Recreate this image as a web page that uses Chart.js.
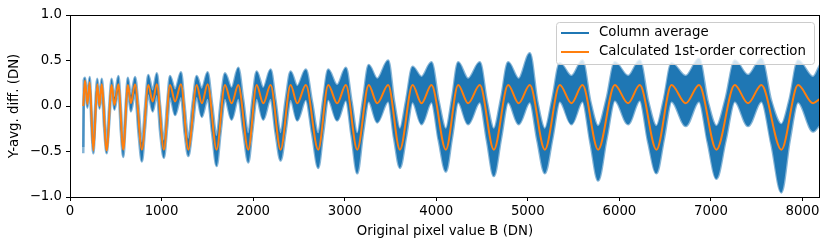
<!DOCTYPE html>
<html>
<head>
<meta charset="utf-8">
<script src="https://cdn.jsdelivr.net/npm/chart.js@4/dist/chart.umd.min.js"></script>
<style>
  html, body { margin: 0; padding: 0; background: #fff; }
  canvas { display: block; }
</style>
</head>
<body>
<canvas id="chart" width="831" height="248"></canvas>
<script>
// tick labels
const xTicks = [0, 1000, 2000, 3000, 4000, 5000, 6000, 7000, 8000];
const yTicks = [-1.0, -0.5, 0.0, 0.5, 1.0];

// Calculated 1st-order correction (orange), key points
const corrX = [145, 164, 190, 215, 255, 298, 322, 346, 400, 455, 485, 528, 582, 632, 665, 710,
  785, 855, 903, 948, 1025, 1092, 1148, 1212, 1292, 1383, 1440, 1503, 1601, 1692, 1765, 1838,
  1947, 2038, 2111, 2191, 2300, 2409, 2482, 2576, 2711, 2820, 2918, 3013, 3137, 3262, 3355, 3475,
  3603, 3741, 3839, 3948, 4105, 4239, 4348, 4476, 4629, 4785, 4900, 5022, 5186, 5349, 5477, 5597,
  5768, 5950, 6095, 6223, 6405, 6569, 6725, 6870, 7060, 7260, 7405, 7551, 7769, 7951, 8115, 8191];
const corrY = [0.0, 0.28, 0.02, 0.26, -0.49, 0.24, 0.0, 0.24, -0.49, 0.23, 0.01, 0.24, -0.48, 0.23, 0.03, 0.24,
  -0.48, 0.23, 0.05, 0.24, -0.48, 0.23, 0.05, 0.24, -0.48, 0.23, 0.03, 0.24, -0.48, 0.23, 0.03, 0.23,
  -0.48, 0.23, 0.03, 0.23, -0.48, 0.23, 0.03, 0.23, -0.48, 0.23, 0.03, 0.23, -0.48, 0.23, 0.03, 0.23,
  -0.48, 0.23, 0.03, 0.23, -0.48, 0.23, 0.03, 0.23, -0.48, 0.23, 0.03, 0.23, -0.48, 0.23, 0.03, 0.23,
  -0.48, 0.23, 0.03, 0.23, -0.48, 0.23, 0.03, 0.23, -0.48, 0.23, 0.03, 0.23, -0.48, 0.23, 0.03, 0.08];

// Column average (blue): upper and lower edge of the noisy trace
const avgX = [145, 150, 164, 190, 215, 235, 255, 275, 298, 322, 346, 373, 400, 428, 455, 485, 528, 555,
  582, 607, 632, 665, 710, 748, 785, 820, 855, 903, 948, 985, 1025, 1060, 1092, 1148, 1212, 1252,
  1292, 1338, 1383, 1440, 1503, 1552, 1601, 1646, 1692, 1765, 1838, 1892, 1947, 1992, 2038, 2111,
  2191, 2245, 2300, 2355, 2409, 2482, 2576, 2643, 2711, 2765, 2820, 2918, 3013, 3075, 3137, 3200,
  3262, 3355, 3475, 3540, 3603, 3672, 3741, 3839, 3948, 4027, 4105, 4172, 4239, 4348, 4476, 4553,
  4629, 4707, 4785, 4900, 5022, 5104, 5186, 5268, 5349, 5477, 5597, 5683, 5768, 5860, 5950, 6095,
  6223, 6315, 6405, 6487, 6569, 6725, 6870, 6965, 7060, 7160, 7260, 7405, 7551, 7660, 7769, 7860,
  7951, 8115, 8191];
const avgHigh = [-0.45, 0.28, 0.31, 0.12, 0.32, -0.05, -0.44, 0.0, 0.3, 0.1, 0.3, 0.0, -0.43, 0.0, 0.3, 0.1, 0.33, 0.0,
  -0.42, 0.0, 0.31, 0.12, 0.32, 0.0, -0.4, 0.0, 0.34, 0.17, 0.36, 0.0, -0.38, 0.02, 0.33, 0.18, 0.37, 0.0,
  -0.36, 0.02, 0.33, 0.19, 0.37, 0.02, -0.33, 0.05, 0.36, 0.2, 0.42, 0.07, -0.3, 0.07, 0.38, 0.2,
  0.4, 0.06, -0.3, 0.07, 0.38, 0.22, 0.4, 0.05, -0.3, 0.07, 0.4, 0.23, 0.42, 0.05, -0.3, 0.07,
  0.45, 0.3, 0.5, 0.05, -0.25, 0.07, 0.43, 0.32, 0.48, 0.05, -0.25, 0.08, 0.48, 0.3, 0.48, 0.05,
  -0.25, 0.08, 0.48, 0.3, 0.58, 0.05, -0.25, 0.08, 0.47, 0.33, 0.5, 0.05, -0.22, 0.08, 0.48, 0.33,
  0.5, 0.05, -0.22, 0.08, 0.47, 0.33, 0.52, 0.05, -0.22, 0.08, 0.5, 0.34, 0.52, 0.05, -0.2, 0.08,
  0.5, 0.32, 0.45];
const avgLow = [-0.52, -0.05, 0.2, -0.02, 0.18, -0.25, -0.52, -0.2, 0.18, -0.03, 0.17, -0.25, -0.52, -0.2, 0.17, -0.04, 0.16, -0.28,
  -0.56, -0.2, 0.15, -0.06, 0.14, -0.3, -0.61, -0.25, 0.13, -0.06, 0.12, -0.3, -0.57, -0.25, 0.1, -0.1, 0.1, -0.3,
  -0.55, -0.25, 0.1, -0.12, 0.08, -0.3, -0.66, -0.28, 0.08, -0.15, 0.08, -0.28, -0.62, -0.27, 0.08, -0.15,
  0.08, -0.3, -0.6, -0.28, 0.07, -0.16, 0.07, -0.3, -0.68, -0.3, 0.07, -0.16, 0.06, -0.33, -0.74, -0.3,
  0.05, -0.18, 0.05, -0.36, -0.68, -0.33, 0.04, -0.2, 0.04, -0.38, -0.72, -0.35, 0.04, -0.2, 0.04, -0.38,
  -0.77, -0.36, 0.04, -0.2, 0.04, -0.38, -0.74, -0.36, 0.05, -0.2, 0.05, -0.4, -0.82, -0.36, 0.06, -0.2,
  0.06, -0.4, -0.74, -0.36, 0.05, -0.22, 0.05, -0.4, -0.8, -0.38, 0.05, -0.22, 0.05, -0.42, -0.95, -0.38,
  0.04, -0.28, -0.2];

const BLUE = '#1f77b4';
const BLUE_EDGE = 'rgba(31, 119, 180, 0.55)';
const ORANGE = '#ff7f0e';
const FONT = '"DejaVu Sans", sans-serif';

const pts = (xs, ys) => xs.map((x, i) => ({ x: x, y: ys[i] }));

// spines on all four sides plus the matplotlib-like legend box
const framePlugin = {
  id: 'frame',
  afterDraw(chart) {
    const { ctx, chartArea: a } = chart;
    ctx.save();
    ctx.strokeStyle = '#000';
    ctx.lineWidth = 1;
    ctx.strokeRect(a.left + 0.5, a.top + 0.5, a.right - a.left - 1, a.bottom - a.top);

    // legend
    const bx = 556, by = 22, bw = 258, bh = 42;
    ctx.fillStyle = 'rgba(255,255,255,0.8)';
    ctx.strokeStyle = '#cccccc';
    ctx.beginPath();
    ctx.roundRect(bx + 0.5, by + 0.5, bw, bh, 3);
    ctx.fill();
    ctx.stroke();
    const items = [
      { label: chart.data.datasets[1].label, color: BLUE, y: 33 },
      { label: chart.data.datasets[0].label, color: ORANGE, y: 52 }
    ];
    ctx.font = '13.3px ' + FONT;
    ctx.textBaseline = 'middle';
    items.forEach(it => {
      ctx.strokeStyle = it.color;
      ctx.lineWidth = 2;
      ctx.beginPath();
      ctx.moveTo(561, it.y);
      ctx.lineTo(589, it.y);
      ctx.stroke();
      ctx.fillStyle = '#000';
      ctx.fillText(it.label, 599, it.y);
    });
    ctx.restore();
  }
};

new Chart(document.getElementById('chart'), {
  type: 'line',
  data: {
    datasets: [
      {
        label: 'Calculated 1st-order correction',
        data: pts(corrX, corrY),
        borderColor: ORANGE,
        borderWidth: 2,
        pointRadius: 0,
        cubicInterpolationMode: 'monotone',
        fill: false,
        order: 0
      },
      {
        label: 'Column average',
        data: pts(avgX, avgHigh),
        borderColor: BLUE_EDGE,
        backgroundColor: BLUE,
        borderWidth: 2.5,
        pointRadius: 0,
        cubicInterpolationMode: 'monotone',
        fill: '+1',
        order: 1
      },
      {
        label: 'Column average (low)',
        data: pts(avgX, avgLow),
        borderColor: BLUE_EDGE,
        borderWidth: 2.5,
        pointRadius: 0,
        cubicInterpolationMode: 'monotone',
        fill: false,
        order: 2
      }
    ]
  },
  options: {
    responsive: false,
    animation: false,
    devicePixelRatio: 1,
    layout: { padding: { top: 15, right: 11, left: 0, bottom: 0 } },
    plugins: { legend: { display: false }, tooltip: { enabled: false } },
    scales: {
      x: {
        type: 'linear',
        min: 0,
        max: 8191,
        afterFit: s => { s.height = 51; },
        afterBuildTicks: s => { s.ticks = xTicks.map(v => ({ value: v })); },
        grid: { drawOnChartArea: false, drawTicks: true, tickLength: 4, color: '#000' },
        border: { display: false },
        ticks: { color: '#000', font: { family: FONT, size: 13.3 }, padding: 3, maxRotation: 0, callback: v => String(v) },
        title: { display: true, text: 'Original pixel value B (DN)', color: '#000', font: { family: FONT, size: 13.3 }, padding: { top: 2, bottom: 8 } }
      },
      y: {
        type: 'linear',
        min: -1,
        max: 1,
        afterFit: s => { s.width = 70; },
        afterBuildTicks: s => { s.ticks = yTicks.map(v => ({ value: v })); },
        grid: { drawOnChartArea: false, drawTicks: true, tickLength: 4, color: '#000' },
        border: { display: false },
        ticks: {
          color: '#000', font: { family: FONT, size: 13.3 }, padding: 4,
          callback: v => v.toFixed(1).replace('-', '\u2212')
        },
        title: { display: true, text: 'Y-avg. diff. (DN)', color: '#000', font: { family: FONT, size: 13.3 }, padding: { top: 7, bottom: 2 } }
      }
    }
  },
  plugins: [framePlugin]
});
</script>
</body>
</html>
